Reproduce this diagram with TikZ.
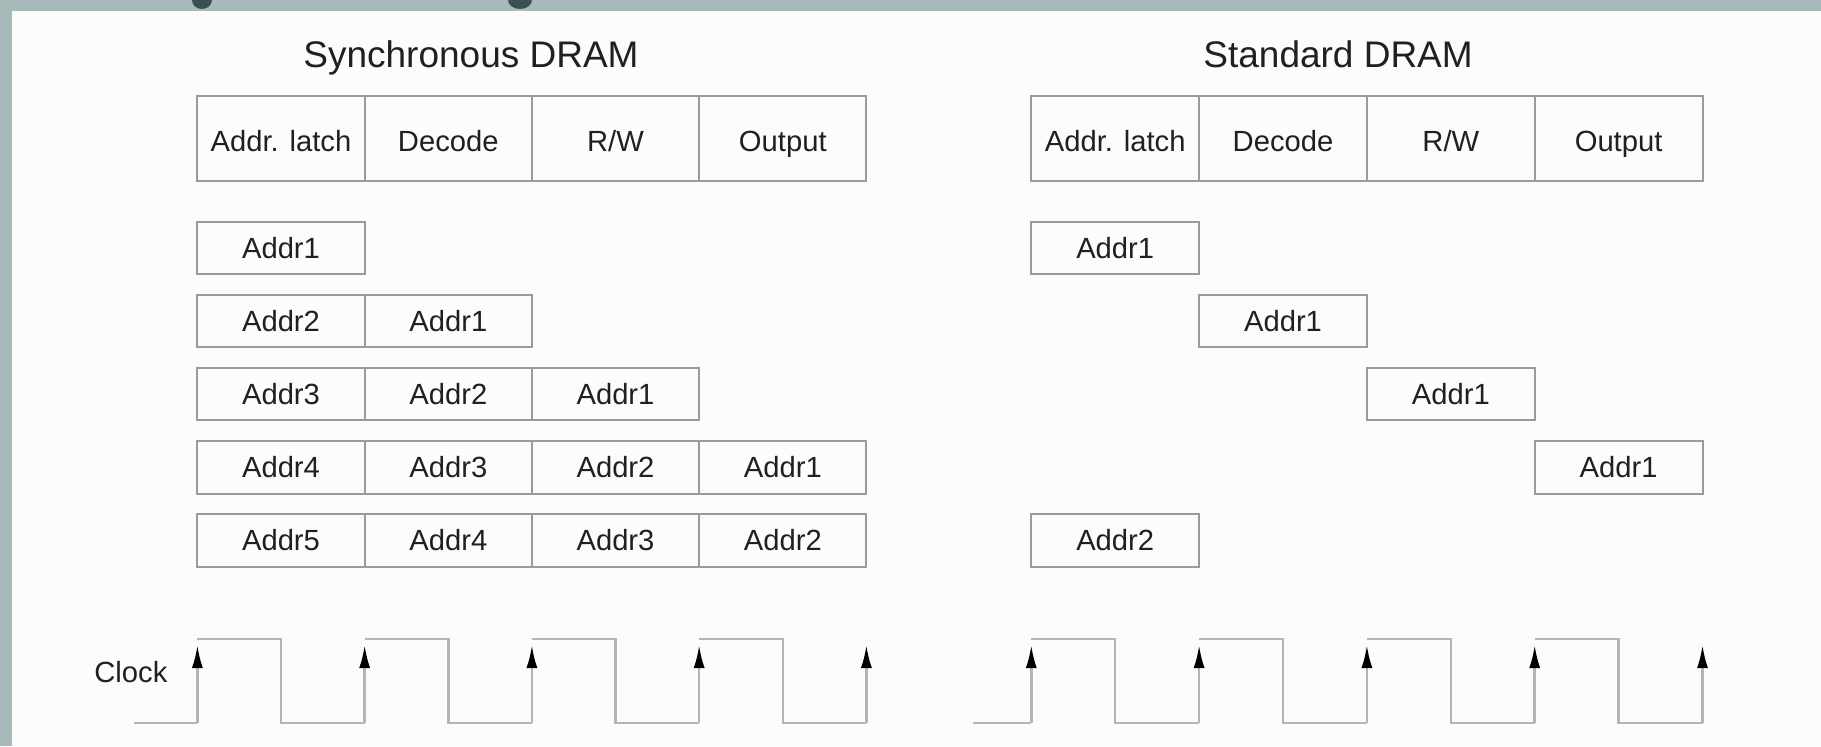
\documentclass[tikz,border=0pt]{standalone}
\usepackage{fontspec}
\setmainfont{Liberation Sans}
\usetikzlibrary{arrows.meta}
\definecolor{strip}{HTML}{A7B9B9}
\definecolor{paper}{HTML}{FDFCFA}
\definecolor{blob}{HTML}{3A5150}
\definecolor{boxline}{HTML}{9A9A9A}
\definecolor{clk}{HTML}{B5B5B5}
\definecolor{ink}{HTML}{202020}
\begin{document}
\begin{tikzpicture}[x=0.5pt,y=-0.5pt,
  cell/.style={draw=boxline, line width=1pt, minimum width=83.6pt, minimum height=26.25pt, inner sep=0pt, text height=10.3pt, text depth=0pt, font=\fontsize{14.6}{16}\selectfont, text=ink},
  scell/.style={cell, minimum width=83.9pt},
  hcell/.style={minimum height=42.4pt, text height=12.8pt},
  ttl/.style={anchor=base west, inner sep=0pt, font=\fontsize{18.5}{22}\selectfont, text=ink},
  wave/.style={draw=clk, line width=1.25pt},
  edgearrow/.style={wave, -{Latex[length=11.5pt,width=5.5pt,color=black]}},
]
\useasboundingbox (0,0) rectangle (1821,746);
\fill[strip] (0,0) rectangle (1821,746);
\fill[paper] (11.6,11) rectangle (1821,746);
\begin{scope}
  \clip (0,0) rectangle (1821,11);
  \fill[blob] (202,0) ellipse [x radius=5pt, y radius=4.5pt];
  \fill[blob] (520,0) ellipse [x radius=6pt, y radius=4.5pt];
\end{scope}

% titles
\node[ttl] (tsync) at (303,67) {Synchronous DRAM};
\node[ttl] (tstd) at (1203,67) {Standard DRAM};

% Synchronous DRAM header
\node[cell,hcell] (sh1) at (281.0,138.8) {Addr. latch};
\node[cell,hcell] (sh2) at (448.3,138.8) {Decode};
\node[cell,hcell] (sh3) at (615.5,138.8) {R/W};
\node[cell,hcell] (sh4) at (782.8,138.8) {Output};

% Synchronous rows
\node[cell] (s11) at (281.0,248.0) {Addr1};

\node[cell] (s21) at (281.0,321.1) {Addr2};
\node[cell] (s22) at (448.3,321.1) {Addr1};

\node[cell] (s31) at (281.0,394.2) {Addr3};
\node[cell] (s32) at (448.3,394.2) {Addr2};
\node[cell] (s33) at (615.5,394.2) {Addr1};

\node[cell] (s41) at (281.0,467.3) {Addr4};
\node[cell] (s42) at (448.3,467.3) {Addr3};
\node[cell] (s43) at (615.5,467.3) {Addr2};
\node[cell] (s44) at (782.8,467.3) {Addr1};

\node[cell] (s51) at (281.0,540.4) {Addr5};
\node[cell] (s52) at (448.3,540.4) {Addr4};
\node[cell] (s53) at (615.5,540.4) {Addr3};
\node[cell] (s54) at (782.8,540.4) {Addr2};

% Standard DRAM header
\node[scell,hcell] (dh1) at (1115.2,138.8) {Addr. latch};
\node[scell,hcell] (dh2) at (1283.0,138.8) {Decode};
\node[scell,hcell] (dh3) at (1450.8,138.8) {R/W};
\node[scell,hcell] (dh4) at (1618.6,138.8) {Output};

% Standard rows
\node[scell] (d11) at (1115.2,248.0) {Addr1};
\node[scell] (d22) at (1283.0,321.1) {Addr1};
\node[scell] (d33) at (1450.8,394.2) {Addr1};
\node[scell] (d44) at (1618.6,467.3) {Addr1};
\node[scell] (d51) at (1115.2,540.4) {Addr2};

% Clock label
\node[anchor=base west, inner sep=0pt, font=\fontsize{14.6}{16}\selectfont, text=ink] (clock) at (94,682.7) {Clock};

% synchronous clock
\draw[wave] (134,723) -- (197.4,723);
\foreach \r/\f/\n in {197.4/281/364.65, 364.65/448.3/531.9, 531.9/615.5/699.15, 699.15/782.8/866.4} {
  \draw[edgearrow] (\r,723) -- (\r,645);
  \draw[wave] (\r,639) -- (\f,639) -- (\f,723) -- (\n,723);
}
\draw[edgearrow] (866.4,723) -- (866.4,645);

% standard clock
\draw[wave] (973,723) -- (1031.3,723);
\foreach \r/\f/\n in {1031.3/1115.2/1199.1, 1199.1/1283/1366.9, 1366.9/1450.8/1534.7, 1534.7/1618.6/1702.5} {
  \draw[edgearrow] (\r,723) -- (\r,645);
  \draw[wave] (\r,639) -- (\f,639) -- (\f,723) -- (\n,723);
}
\draw[edgearrow] (1702.5,723) -- (1702.5,645);
\end{tikzpicture}
\end{document}
